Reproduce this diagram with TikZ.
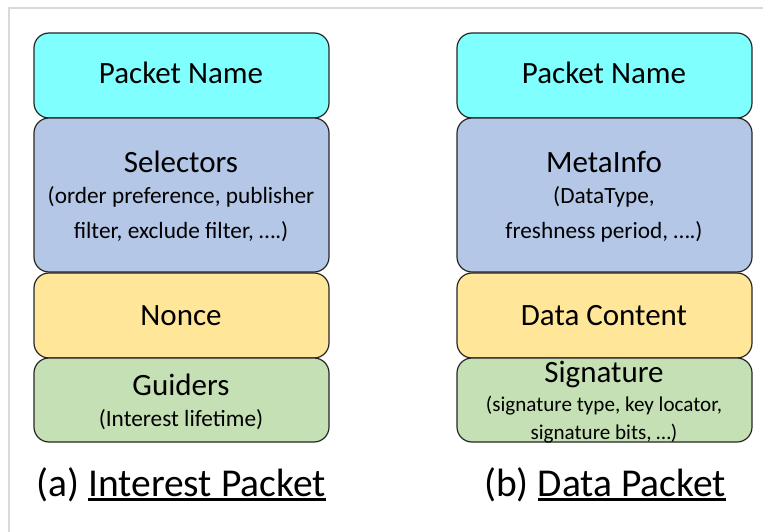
\documentclass[tikz,border=0pt]{standalone}
\usepackage{fontspec}
\setmainfont{Carlito}
\definecolor{cName}{HTML}{80FFFF}
\definecolor{cSel}{HTML}{B4C7E7}
\definecolor{cNonce}{HTML}{FFE699}
\definecolor{cGuide}{HTML}{C5E0B4}
\definecolor{frameC}{HTML}{D9D9D9}
\tikzset{
  field/.style={draw=black!85, line width=1.2pt, rounded corners=15pt, minimum width=295pt, inner sep=0pt, outer sep=0pt},
  big/.style={anchor=base, inner sep=0pt, font=\fontsize{31}{36}\selectfont},
  sub/.style={anchor=base, inner sep=0pt, font=\fontsize{23.3}{27}\selectfont},
  small/.style={anchor=base, inner sep=0pt, font=\fontsize{21.1}{25}\selectfont},
  captext/.style={anchor=base, inner sep=0pt, font=\fontsize{39.5}{44}\selectfont},
}
\newcommand{\ulx}[1]{\setbox0\hbox{#1}\rlap{\rule[-4.5pt]{\wd0}{2.4pt}}\box0}
\begin{document}
\begin{tikzpicture}[x=1pt,y=-1pt]
\useasboundingbox (0,0) rectangle (763,532);
\draw[frameC, line width=1.5pt] (763,8) -- (9,8) -- (9,532);
% left column
\node[field, fill=cName,  minimum height=85pt, anchor=north west] (aname) at (34,33) {};
\node[field, fill=cSel,   minimum height=154pt, anchor=north west] (asel) at (34,118) {};
\node[field, fill=cNonce, minimum height=85pt, anchor=north west] (anonce) at (34,273) {};
\node[field, fill=cGuide, minimum height=84pt, anchor=north west] (aguide) at (34,358) {};
% right column
\node[field, fill=cName,  minimum height=85pt, anchor=north west] (bname) at (457,33) {};
\node[field, fill=cSel,   minimum height=154pt, anchor=north west] (bmeta) at (457,118) {};
\node[field, fill=cNonce, minimum height=85pt, anchor=north west] (bdata) at (457,273) {};
\node[field, fill=cGuide, minimum height=84pt, anchor=north west] (bsig) at (457,358) {};
% left texts
\node[big] (t1) at (181,84) {Packet Name};
\node[big] (t2) at (181,172) {Selectors};
\node[sub] (t3) at (181,204) {(order preference, publisher};
\node[sub] (t4) at (181,238) {filter, exclude filter, ….)};
\node[big] (t5) at (181,325) {Nonce};
\node[big] (t6) at (181,395) {Guiders};
\node[sub] (t7) at (181,426) {(Interest lifetime)};
% right texts
\node[big] (u1) at (604,84) {Packet Name};
\node[big] (u2) at (604,172) {MetaInfo};
\node[sub] (u3) at (604,204) {(DataType,};
\node[sub] (u4) at (604,238) {freshness period, ….)};
\node[big] (u5) at (604,325) {Data Content};
\node[big] (u6) at (604,382) {Signature};
\node[small] (u7) at (604,411) {(signature type, key locator,};
\node[small] (u8) at (604,439) {signature bits, …)};
% captions
\node[captext] (capa) at (181,496) {(a) \ulx{Interest Packet}};
\node[captext] (capb) at (605,496) {(b) \ulx{Data Packet}};
\end{tikzpicture}
\end{document}
